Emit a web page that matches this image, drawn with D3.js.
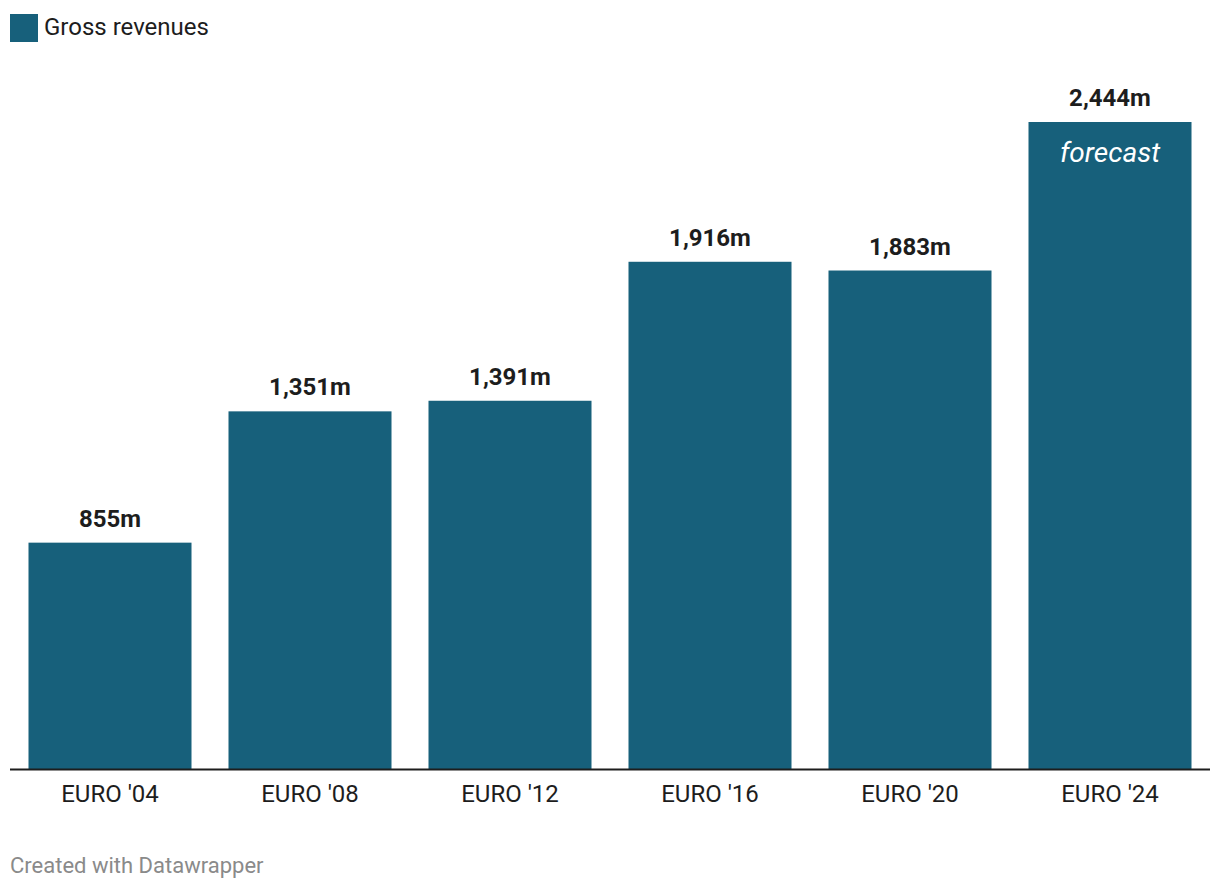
<!DOCTYPE html>
<html><head><meta charset="utf-8">
<script src="https://cdn.jsdelivr.net/npm/d3@7"></script>
<style>body{margin:0;background:#fff;font-family:Roboto,sans-serif;}</style>
</head><body>
<svg id="c" width="1220" height="892"></svg>
<script>
const categories = ["EURO '04","EURO '08","EURO '12","EURO '16","EURO '20","EURO '24"];
const values = [855,1351,1391,1916,1883,2444];
const valueLabels = ["855m","1,351m","1,391m","1,916m","1,883m","2,444m"];
const forecastIndex = 5;
const color = "#17607b";

const svg = d3.select("#c");
const x = d3.scaleBand().domain(categories).range([10,1210]).paddingInner(0.185).paddingOuter(0.0925);
const y = d3.scaleLinear().domain([0,2444]).range([769,122]);

// legend
svg.append("rect").attr("x",10).attr("y",14).attr("width",28).attr("height",28).attr("fill",color);
svg.append("text").attr("x",44).attr("y",35).attr("font-size",24).attr("fill","#1d1d1d").text("Gross revenues");

svg.selectAll("rect.bar").data(values).enter().append("rect").attr("class","bar")
  .attr("x",(d,i)=>x(categories[i])).attr("width",x.bandwidth())
  .attr("y",d=>y(d)).attr("height",d=>y(0)-y(d)).attr("fill",color);

svg.selectAll("text.val").data(values).enter().append("text").attr("class","val")
  .attr("x",(d,i)=>x(categories[i])+x.bandwidth()/2).attr("y",d=>y(d)-16)
  .attr("text-anchor","middle").attr("font-size",24).attr("font-weight","bold").attr("fill","#1d1d1d")
  .text((d,i)=>valueLabels[i]);

svg.append("text").attr("x",x(categories[forecastIndex])+x.bandwidth()/2).attr("y",y(values[forecastIndex])+40)
  .attr("text-anchor","middle").attr("font-size",28).attr("font-style","italic").attr("fill","#fff").text("forecast");

const ax = svg.append("g").attr("transform","translate(0,769)").call(d3.axisBottom(x).tickSize(0).tickPadding(16));
ax.select(".domain").attr("stroke","#1d1d1d").attr("stroke-width",2).attr("d","M10,0.5H1210");
ax.selectAll("text").attr("font-size",24).attr("font-family","Roboto,sans-serif").attr("fill","#1d1d1d");

svg.append("text").attr("x",10).attr("y",873).attr("font-size",22).attr("fill","#8a8a8a").text("Created with Datawrapper");
</script>
</body></html>
